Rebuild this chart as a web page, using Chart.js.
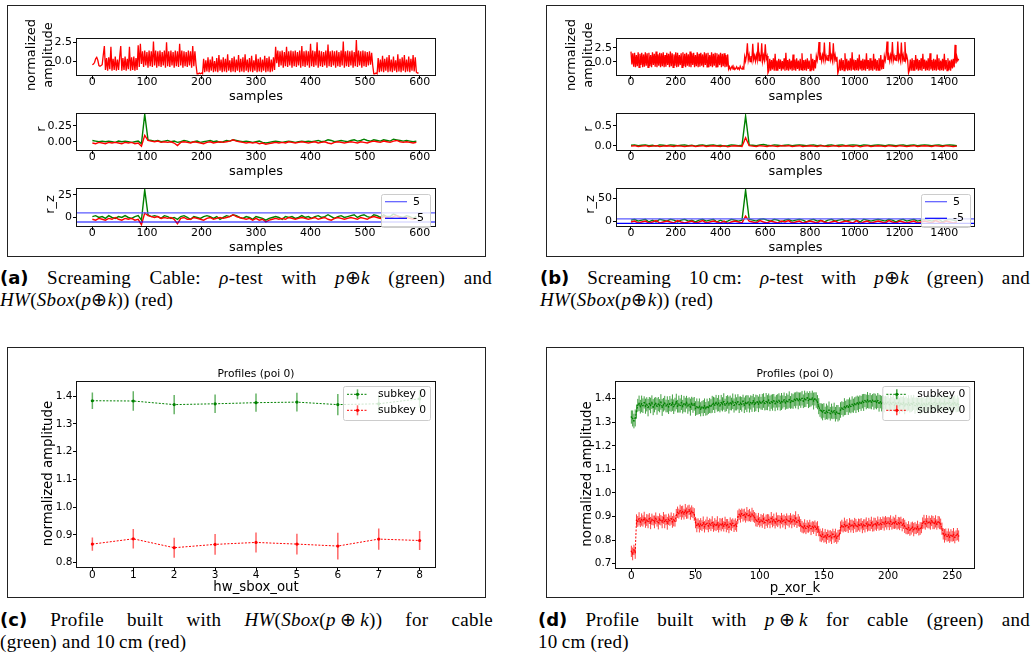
<!DOCTYPE html>
<html>
<head>
<meta charset="utf-8">
<script src="https://cdn.jsdelivr.net/npm/chart.js@4.4.0/dist/chart.umd.min.js"></script>
<style>
  body { margin:0; background:#fff; width:1034px; height:659px; position:relative; overflow:hidden; }
  .caixa { position:absolute; border:1.5px solid #222; box-sizing:border-box; }
  .leg { position:absolute; font-family:"Liberation Serif", serif; font-size:19px; line-height:22px; color:#000; letter-spacing:0.3px; }
  .leg .j { text-align:justify; text-align-last:justify; }
  .leg b { font-family:"DejaVu Sans", sans-serif; font-size:18px; letter-spacing:0; }
  .leg .m { display:inline-block; }
</style>
</head>
<body>
<div class="caixa" style="left:7px;top:5px;width:479px;height:252px"></div>
<div class="caixa" style="left:546px;top:5px;width:478px;height:252px"></div>
<div class="caixa" style="left:7px;top:347px;width:479px;height:251px"></div>
<div class="caixa" style="left:546px;top:347px;width:478px;height:251px"></div>

<div class="leg" style="left:0;top:267px;width:492px">
  <div class="j"><b>(a)</b> Screaming Cable: <i>ρ</i>-test with <span class="m"><i>p</i>⊕<i>k</i></span> (green) and</div>
  <div><span class="m"><i>HW</i>(<i>Sbox</i>(<i>p</i>⊕<i>k</i>))</span> (red)</div>
</div>
<div class="leg" style="left:540px;top:267px;width:490px">
  <div class="j"><b>(b)</b> Screaming 10&#8201;cm: <i>ρ</i>-test with <span class="m"><i>p</i>⊕<i>k</i></span> (green) and</div>
  <div><span class="m"><i>HW</i>(<i>Sbox</i>(<i>p</i>⊕<i>k</i>))</span> (red)</div>
</div>
<div class="leg" style="left:0;top:609px;width:493px">
  <div class="j"><b>(c)</b> Profile built with <span class="m"><i>HW</i>(<i>Sbox</i>(<i>p</i>&#8201;⊕&#8201;<i>k</i>))</span> for cable</div>
  <div>(green) and 10&#8201;cm (red)</div>
</div>
<div class="leg" style="left:538px;top:609px;width:492px">
  <div class="j"><b>(d)</b> Profile built with <span class="m"><i>p</i>&#8201;⊕&#8201;<i>k</i></span> for cable (green) and</div>
  <div>10&#8201;cm (red)</div>
</div>

<script>
// ================== dados ==================

// (a) traço do cabo, um valor a cada 2 amostras
const passoTracoCabo = 2;
const tracoCabo = [
  -0.5,-0.4,-0.2,0.3,0.5,0.1,-0.6,-0.7,-0.6,-0.5,
  0.8,2.0,-1.2,0.4,-1.3,0.5,-1.1,1.9,-1.3,0.3,-1.2,0.6,-1.3,0.2,-1.2,0.5,2.0,-1.3,0.4,-1.2,0.6,-1.3,0.3,-1.1,1.9,-1.3,0.5,-1.2,0.6,-1.3,0.4,-1.2,2.1,-0.8,
  2.3,-0.4,1.3,-0.8,1.4,-0.6,1.2,-0.9,1.4,-0.7,
  1.3,-0.8,2.6,-0.6,1.4,-0.9,1.3,-0.7,1.4,-0.8,
  1.2,-0.6,1.4,-0.9,2.5,-0.7,1.3,-0.8,1.4,-0.6,
  1.2,-0.9,1.4,-0.7,1.3,-0.8,2.3,-0.6,1.4,-0.9,
  1.3,-0.7,1.2,-0.8,1.4,-0.6,1.3,-0.9,2.0,-0.7,
  1.3,-0.5,
  -1.7,-1.7,-1.6,-1.7,-1.6,-1.7,
  0.3,-1.5,0.1,-1.4,0.5,-1.5,0.2,-1.3,0.6,-1.5,
  0.0,-1.4,0.4,-1.5,0.8,-1.3,0.2,-1.5,0.5,-1.4,
  0.3,-1.5,0.9,-1.3,0.1,-1.5,0.4,-1.4,0.6,-1.5,
  0.2,-1.3,0.8,-1.5,0.3,-1.4,0.5,-1.5,0.9,-1.3,
  0.2,-1.5,0.4,-1.4,0.7,-1.5,0.1,-1.3,0.9,-1.5,
  0.3,-1.4,0.5,-1.5,0.2,-1.3,0.7,-1.5,0.4,-1.4,
  0.6,-1.5,0.2,-1.4,0.5,-1.2,
  1.9,-0.3,
  1.4,-0.8,1.3,-0.6,1.4,-0.9,1.2,-0.7,1.9,-0.8,
  1.3,-0.6,1.4,-0.9,1.3,-0.7,1.4,-0.8,1.2,-0.6,
  1.4,-0.9,2.0,-0.7,1.3,-0.8,1.4,-0.6,1.3,-0.9,
  2.3,-0.7,1.4,-0.8,1.3,-0.6,2.5,-0.9,1.4,-0.7,
  1.3,-0.8,1.2,-0.6,1.4,-0.9,2.2,-0.7,1.3,-0.8,
  1.4,-0.6,1.3,-0.9,1.4,-0.7,1.2,-0.8,1.4,-0.6,
  2.6,-0.9,1.3,-0.7,1.4,-0.8,1.3,-0.6,1.4,-0.9,
  1.2,-0.7,2.8,-0.8,1.4,-0.6,1.3,-0.9,1.4,-0.7,
  1.3,-0.8,1.2,-0.6,1.3,-0.5,1.1,-0.6,
  -1.7,-1.7,-1.6,-1.7,
  0.4,-1.5,0.2,-1.4,0.7,-1.5,0.3,-1.3,0.5,-1.5,
  0.8,-1.4,0.2,-1.5,0.6,-1.3,0.1,-1.5,0.9,-1.4,
  0.3,-1.5,0.5,-1.3,0.8,-1.5,0.2,-1.4,0.6,-1.5,
  0.3,-1.3,0.8,-1.4,0.5,-1.5,-1.6,-1.6
];

// (a) correlação r e r_z, um valor a cada 6 amostras
const passoRCabo = 6;
const rCaboVerde = [
  0.02,0.01,0.0,0.01,0.0,0.01,0.0,-0.01,0.01,0.0,0.01,0.0,-0.01,0.0,0.01,-0.03,
  0.43,
  0.03,0.02,0.01,0.02,0.0,0.01,0.02,0.0,0.01,-0.01,
  0.0,0.02,0.01,-0.01,0.0,0.01,-0.01,0.0,0.01,0.02,
  0.0,0.01,-0.01,0.0,0.02,0.01,0.03,0.02,0.01,0.0,
  0.01,0.0,-0.01,0.0,0.01,-0.01,-0.02,-0.01,0.0,0.01,
  0.0,-0.01,0.0,0.01,0.0,-0.01,0.0,0.01,0.0,0.01,
  0.0,0.01,0.02,0.0,0.01,0.03,0.02,0.0,0.01,0.02,
  0.01,0.0,0.02,0.03,0.01,0.02,0.04,0.02,0.01,0.03,
  0.02,0.01,0.03,0.02,0.01,0.04,0.03,0.02,0.01,0.02,
  0.01,0.0,0.01
];
const rCaboVermelho = [
  -0.02,-0.03,-0.01,-0.02,-0.03,-0.01,-0.02,-0.01,-0.02,-0.03,-0.01,-0.02,-0.01,-0.03,-0.02,-0.07,
  0.10,
  0.02,0.01,0.0,0.01,-0.01,0.0,-0.01,0.0,-0.02,-0.06,
  -0.01,0.0,-0.01,-0.02,0.0,-0.01,-0.02,-0.03,-0.01,0.0,
  -0.02,-0.01,0.0,-0.01,0.0,0.01,0.03,0.01,0.0,-0.01,
  -0.02,-0.01,-0.02,-0.01,-0.03,-0.02,-0.04,-0.03,-0.02,-0.01,
  -0.02,-0.01,-0.02,0.0,-0.01,-0.02,-0.01,0.0,-0.01,-0.02,
  -0.01,0.0,-0.02,-0.01,0.0,-0.02,-0.03,-0.01,0.0,-0.01,
  -0.02,-0.01,0.0,-0.01,-0.02,0.0,-0.01,-0.02,0.0,0.01,
  0.0,-0.01,0.01,0.0,-0.01,0.01,0.02,0.0,-0.01,0.0,
  -0.01,-0.02,-0.01
];
const rzCaboVerde = [
  1,2,0,1,-1,2,0,-1,1,0,2,0,-1,1,2,-3,
  30.5,
  3,1,2,1,-1,2,1,-1,0,-2,
  1,2,0,-2,1,0,-1,1,2,1,
  -1,1,-2,0,2,1,3,2,0,-1,
  1,0,-2,1,0,-1,-3,-1,0,1,
  0,-2,1,0,1,-1,0,2,0,1,
  -1,1,2,0,1,3,1,-1,1,2,
  0,1,2,3,0,2,3,1,0,3,
  2,0,3,1,1,4,2,1,0,2,
  1,-1,1
];
const rzCaboVermelho = [
  -2,-3,-1,-2,-3,-1,-2,0,-2,-3,-1,-2,-1,-3,-2,-8,
  5,
  2,1,0,1,-1,0,-1,0,-2,-7,
  -1,0,-2,-2,0,-1,-2,-3,-1,0,
  -2,-1,0,-1,0,1,3,1,0,-1,
  -2,-1,-3,-1,-3,-2,-5,-3,-2,-1,
  -2,-1,-2,0,-1,-2,-1,0,-1,-2,
  -1,0,-2,-1,0,-2,-3,-1,0,-1,
  -2,-1,0,-1,-2,0,-1,-2,0,1,
  0,-1,1,0,-1,1,2,0,-1,0,
  -1,-2,-1
];

// (b) traço de 10 cm, um valor a cada 4 amostras
const passoTraco10cm = 4;
const traco10cm = [
  1.8,-0.5,1.5,-0.9,1.6,-1.0,1.2,-0.8,1.7,-1.0,
  1.4,-0.6,1.6,-1.0,1.3,-0.9,1.7,-0.7,1.5,-1.0,
  1.6,-0.8,1.2,-1.0,1.7,-0.6,1.4,-0.9,1.8,-1.0,
  1.3,-0.7,1.6,-1.0,1.5,-0.8,1.7,-1.0,1.2,-0.9,
  1.6,-0.6,1.4,-1.0,1.8,-0.8,1.5,-1.0,1.3,-0.7,
  1.7,-1.0,1.6,-0.9,1.2,-0.6,1.5,-1.0,1.7,-0.8,
  1.4,-1.0,1.6,-0.7,1.3,-0.9,1.8,-1.0,1.5,-0.6,
  1.6,-1.0,1.2,-0.8,1.7,-1.0,1.4,-0.9,1.6,-0.7,
  1.3,-1.0,1.7,-0.6,1.5,-0.9,1.6,-1.0,1.2,-0.8,
  1.7,-1.0,1.4,-0.7,1.6,-0.9,1.5,-1.0,1.3,-0.6,
  1.6,-1.0,1.4,-0.8,1.5,-1.0,1.2,-0.9,1.3,
  -1.3,-0.9,-1.4,-1.1,-0.8,-1.3,-1.0,-1.4,-1.2,-0.9,-1.3,-1.1,-1.4,-0.8,-1.2,-1.3,-1.0,-1.2,
  0.9,0.1,1.1,3.3,0.3,1.2,0.0,1.0,0.2,3.2,
  0.4,1.1,0.1,1.2,0.3,3.4,0.2,1.0,0.4,3.3,
  0.1,1.1,0.3,3.1,0.5,1.0,
  -2.0,-1.6,
  0.5,-1.6,0.3,-1.4,0.6,-1.6,1.4,-1.5,0.2,-1.6,
  0.5,-1.3,0.4,-1.6,0.1,-1.4,0.6,-1.6,1.6,-1.5,
  0.3,-1.6,0.5,-1.4,0.2,-1.6,1.3,-1.5,0.4,-1.6,
  0.6,-1.3,0.2,-1.6,0.5,-1.4,1.5,-1.6,0.3,-1.5,
  0.4,-1.6,0.6,-1.3,0.2,-1.6,1.4,-1.5,0.5,-1.6,
  0.3,-1.2,
  1.0,0.2,1.2,3.5,0.3,1.1,0.1,1.2,0.4,3.4,
  0.2,1.0,0.3,1.2,0.1,3.5,0.4,1.1,0.2,3.3,
  0.3,1.2,0.1,0.9,
  -2.1,-1.5,
  0.4,-1.6,0.6,-1.5,0.3,-1.6,1.5,-1.4,0.5,-1.6,
  0.2,-1.5,0.6,-1.6,1.7,-1.3,0.4,-1.6,0.3,-1.5,
  0.6,-1.6,1.3,-1.4,0.2,-1.6,0.5,-1.5,0.4,-1.6,
  1.5,-1.3,0.3,-1.6,0.6,-1.5,0.2,-1.6,1.4,-1.4,
  0.5,-1.6,0.3,-1.5,0.6,-1.6,1.2,-1.4,0.4,-1.3,
  1.0,0.2,1.2,3.6,0.3,1.1,0.1,1.2,0.4,3.5,
  0.2,1.0,0.3,1.2,0.1,3.6,0.4,1.1,0.2,3.4,
  0.3,1.2,0.1,3.5,0.4,1.1,0.3,
  -2.0,-1.5,
  0.4,-1.6,0.6,-1.5,0.3,-1.6,1.2,-1.4,0.5,-1.6,
  0.3,-1.5,0.6,-1.6,1.4,-1.3,0.4,-1.6,0.2,-1.5,
  0.6,-1.6,1.5,-1.4,0.3,-1.6,0.5,-1.5,0.4,-1.6,
  1.3,-1.3,0.6,-1.6,0.2,-1.5,0.5,-1.6,1.4,-1.4,
  0.3,-1.6,0.6,-1.5,0.2,-1.6,0.4,-1.2,0.5,-1.0,
  3.0,-0.3,0.9,0.2,0.5
];

// (b) r e r_z, um valor a cada 16 amostras
const passoR10cm = 16;
const r10cmVerde = [
  0.01,0.02,0.0,0.01,0.02,0.0,0.01,-0.01,0.02,0.01,
  0.0,0.02,0.01,0.0,0.01,0.02,0.0,0.01,-0.01,0.01,
  0.02,0.0,0.01,0.02,0.0,0.01,-0.01,0.0,0.02,0.01,
  0.0,0.01,0.75,0.02,0.01,0.0,0.02,0.03,0.01,0.0,
  0.02,0.01,0.0,0.01,0.02,0.0,0.01,0.02,0.01,0.0,
  0.01,0.02,0.0,0.01,-0.01,0.01,0.02,0.0,0.01,0.02,
  0.0,0.01,0.02,0.01,0.0,0.02,0.01,0.0,0.01,0.02,
  0.01,0.0,0.02,0.01,0.0,0.01,0.02,0.0,0.01,0.02,
  0.0,0.01,0.02,0.01,0.0,0.01,0.02,0.0,0.01,0.02,
  0.01,0.0
];
const r10cmVermelho = [
  -0.01,0.0,-0.02,-0.01,0.0,-0.02,-0.01,0.0,-0.02,-0.01,
  0.0,-0.01,-0.02,0.0,-0.01,-0.02,-0.01,0.0,-0.02,-0.01,
  0.0,-0.02,-0.01,0.0,-0.01,-0.02,0.0,-0.03,-0.01,0.0,
  -0.01,-0.02,0.20,0.0,-0.01,-0.02,0.0,-0.01,-0.02,0.0,
  -0.01,-0.02,0.0,-0.01,0.0,-0.02,-0.01,0.0,-0.02,-0.01,
  0.0,-0.01,-0.02,0.0,-0.01,-0.02,-0.01,0.0,-0.02,-0.01,
  0.0,-0.01,-0.02,0.0,-0.03,-0.01,0.0,-0.02,-0.01,0.0,
  -0.01,-0.02,0.0,-0.01,-0.02,0.0,-0.01,-0.02,-0.01,0.0,
  -0.02,-0.01,0.0,-0.01,-0.02,0.0,-0.01,-0.02,0.0,-0.01,
  -0.02,-0.01
];
const rz10cmVerde = [
  2,4,0,2,4,-2,2,-2,4,2,
  0,4,2,-2,2,4,0,2,-2,2,
  4,0,2,4,-2,2,-2,0,4,2,
  0,2,68,4,2,0,4,5,2,0,
  4,2,-2,2,4,0,2,4,2,-2,
  2,4,0,2,-2,2,4,0,2,4,
  0,2,4,2,-2,4,2,0,2,4,
  2,0,4,2,-2,2,4,0,2,4,
  0,2,4,2,0,2,4,-2,2,4,
  2,0
];
const rz10cmVermelho = [
  -2,0,-4,-2,0,-4,-2,1,-4,-2,
  0,-2,-4,1,-2,-4,-2,0,-4,-2,
  1,-4,-2,0,-2,-4,0,-5,-2,0,
  -2,-4,11,0,-2,-4,1,-2,-4,0,
  -2,-4,0,-2,1,-4,-2,0,-4,-2,
  0,-2,-4,1,-2,-4,-2,0,-4,-2,
  0,-2,-4,1,-5,-2,0,-4,-2,0,
  -2,-4,1,-2,-4,0,-2,-4,-2,0,
  -4,-2,0,-2,-4,1,-2,-4,0,-2,
  -4,-2
];
const limiares = [5, -5];

// (c) perfis por hw_sbox_out
const hwCategorias = [0, 1, 2, 3, 4, 5, 6, 7, 8];
const hwMediaVerde = [1.383, 1.382, 1.369, 1.372, 1.376, 1.378, 1.369, 1.372, 1.390];
const hwErroVerde = [0.030, 0.035, 0.035, 0.033, 0.033, 0.034, 0.038, 0.032, 0.032];
const hwMediaVermelho = [0.867, 0.886, 0.854, 0.866, 0.873, 0.867, 0.860, 0.885, 0.880];
const hwErroVermelho = [0.024, 0.035, 0.036, 0.037, 0.036, 0.037, 0.048, 0.038, 0.034];

// (d) perfis por p_xor_k (0..255), valores em milésimos
const pxorMediaVerde = [
  1322,1316,1305,1318,1345,1372,1380,1366,1378,1370,
  1384,1368,1376,1362,1379,1371,1385,1364,1373,1380,
  1367,1377,1370,1386,1363,1374,1381,1369,1376,1365,
  1379,1372,1383,1366,1375,1388,1368,1377,1371,1384,
  1366,1378,1373,1385,1369,1376,1364,1380,1372,1378,
  1358,1366,1361,1368,1355,1364,1360,1370,1357,1365,
  1362,1371,1368,1376,1380,1372,1385,1374,1381,1369,
  1383,1376,1388,1372,1379,1386,1373,1382,1377,1389,
  1371,1384,1378,1387,1374,1381,1376,1390,1372,1383,
  1379,1386,1373,1384,1378,1391,1375,1382,1387,1376,
  1389,1381,1386,1392,1379,1388,1383,1394,1380,1387,
  1384,1391,1378,1389,1385,1393,1381,1388,1386,1395,
  1382,1390,1387,1396,1384,1391,1388,1397,1393,1400,
  1391,1398,1394,1402,1389,1399,1395,1404,1392,1398,
  1396,1403,1390,1399,1394,1385,1368,1352,1348,1343,
  1350,1338,1346,1341,1352,1336,1347,1340,1349,1334,
  1343,1338,1336,1352,1360,1355,1366,1361,1370,1364,
  1373,1367,1376,1370,1378,1374,1382,1376,1385,1380,
  1389,1384,1392,1386,1394,1387,1391,1385,1393,1388,
  1390,1384,1392,1381,1387,1379,1385,1376,1383,1378,
  1386,1374,1382,1377,1385,1372,1381,1376,1384,1370,
  1380,1375,1383,1369,1378,1374,1382,1371,1379,1376,
  1384,1370,1378,1373,1381,1368,1377,1372,1380,1369,
  1378,1374,1383,1371,1379,1375,1384,1372,1380,1376,
  1385,1373,1381,1377,1386,1374,1382,1378,1384,1372,
  1380,1376,1383,1371,1379,1375
];
const pxorErroVerde = [
  28,34,31,36,30,27,33,29,35,31, 26,32,30,37,28,33,29,34,31,27,
  35,30,28,33,36,29,31,27,34,30, 32,28,35,31,29,33,27,36,30,32,
  29,34,31,27,33,30,36,28,32,29, 31,35,28,33,30,26,34,31,29,35,
  27,32,30,36,28,33,31,29,34,27, 33,30,35,28,32,29,36,31,27,33,
  30,34,28,32,35,29,31,27,33,30, 36,28,32,30,34,29,31,35,28,33,
  30,27,34,31,29,36,32,28,33,30, 35,29,31,27,34,30,32,36,28,31,
  29,33,30,35,27,32,31,29,34,30, 36,28,33,31,29,35,30,27,32,34,
  29,31,36,28,33,30,34,29,32,35, 31,28,33,30,36,29,32,27,34,31,
  30,35,28,33,29,31,36,30,27,33, 32,29,34,30,28,35,31,33,29,32,
  30,36,28,31,34,29,33,30,27,35, 31,29,32,36,28,33,30,34,29,31,
  35,28,32,30,33,29,36,31,27,34, 30,32,29,35,31,28,33,30,36,29,
  32,34,28,31,30,35,29,33,27,32, 31,36,29,33,30,28,34,31,32,29,
  35,30,33,28,31,36,29,32,30,34, 28,33,31,29,35,30
];
const pxorMediaVermelho = [
  752,741,758,746,884,879,890,876,887,881,
  893,874,885,879,891,872,888,883,877,892,
  880,873,889,884,876,894,879,886,871,888,
  882,891,877,886,880,905,918,912,924,915,
  921,910,926,914,919,928,912,922,916,908,
  874,862,870,858,868,861,873,856,866,871,
  859,869,863,874,857,867,862,872,855,868,
  864,870,858,873,861,866,854,869,863,871,
  860,867,858,898,909,901,912,904,908,897,
  911,903,906,899,910,902,896,886,880,889,
  876,885,879,890,873,884,881,887,875,892,
  878,886,872,889,880,884,876,891,879,885,
  874,888,882,879,890,877,886,881,893,875,
  884,878,862,856,851,860,849,858,853,861,
  848,857,852,859,846,855,838,821,815,824,
  812,819,809,822,814,818,810,825,813,820,
  808,817,822,852,861,855,866,858,863,852,
  868,859,864,856,870,861,857,866,862,869,
  855,865,860,871,858,867,862,873,859,866,
  869,861,874,864,870,866,875,868,878,870,
  876,869,880,867,874,871,878,866,873,869,
  875,863,870,858,850,846,853,842,849,855,
  844,851,847,856,843,849,852,871,878,868,
  880,872,876,869,882,874,870,879,866,877,
  873,868,848,826,818,824,815,822,812,820,
  816,823,811,819,825,817
];
const pxorErroVermelho = [
  24,27,22,26,25,23,28,21,26,24, 27,22,25,29,23,26,24,21,27,25,
  23,28,24,22,26,25,29,23,27,24, 22,26,25,28,23,27,24,21,26,29,
  25,23,27,24,28,22,26,25,23,27, 24,29,22,26,25,23,27,24,21,28,
  26,23,25,27,22,26,24,29,23,25, 27,24,22,26,28,23,25,27,24,21,
  26,25,23,28,24,27,22,26,25,23, 29,24,26,22,27,25,23,28,24,26,
  22,25,27,23,26,24,29,22,25,27, 24,26,23,28,25,22,27,24,26,23,
  28,25,22,26,24,27,23,25,29,24, 26,22,27,25,23,28,24,26,22,25,
  27,23,26,24,29,25,22,27,24,26, 23,28,25,22,26,24,27,23,25,28,
  24,26,22,27,25,23,29,24,26,22, 25,27,23,26,24,28,22,25,27,24,
  26,23,28,25,22,27,24,26,23,29, 25,22,26,24,27,23,25,28,24,26,
  22,27,25,23,26,24,29,22,25,27, 24,26,23,28,25,22,27,24,26,23,
  28,25,22,26,24,27,23,25,29,24, 26,22,27,25,23,28,24,26,22,25,
  27,23,26,24,29,25,22,27,24,26, 23,28,25,22,26,24
];

// ticks dos eixos
const ticksAmostrasCabo = [0, 100, 200, 300, 400, 500, 600];
const ticksAmostras10cm = [0, 200, 400, 600, 800, 1000, 1200, 1400];
const ticksAmpCabo = [0, 2.5];
const ticksRCabo = [0, 0.25];
const ticksRzCabo = [0, 25];
const ticksAmp10cm = [0, 2.5];
const ticksR10cm = [0, 0.5];
const ticksRz10cm = [0, 50];
const ticksHw = [0, 1, 2, 3, 4, 5, 6, 7, 8];
const ticksPxor = [0, 50, 100, 150, 200, 250];
const ticksPerfilHw = [0.8, 0.9, 1.0, 1.1, 1.2, 1.3, 1.4];
const ticksPerfilPxor = [0.7, 0.8, 0.9, 1.0, 1.1, 1.2, 1.3, 1.4];

// ================== desenho ==================

Chart.defaults.font.family = "'DejaVu Sans', sans-serif";
Chart.defaults.color = '#000';

const VERDE = '#008000', VERMELHO = '#ff0000';

function serie(valores, passo, escalaValor) {
    return valores.map((v, i) => ({ x: i * passo, y: v / (escalaValor || 1) }));
}

// moldura preta em volta da área do gráfico (estilo matplotlib)
const moldura = {
    id: 'moldura',
    afterDatasetsDraw(chart) {
        const { ctx, chartArea: a } = chart;
        ctx.save();
        ctx.strokeStyle = '#111';
        ctx.lineWidth = 1;
        ctx.strokeRect(Math.round(a.left) + 0.5, Math.round(a.top) + 0.5,
            Math.round(a.right - a.left) - 1, Math.round(a.bottom - a.top) - 1);
        ctx.restore();
    }
};

// barras de erro verticais a partir de dataset.erros
const barrasErro = {
    id: 'barrasErro',
    beforeDatasetsDraw(chart) {
        const { ctx, chartArea: a, scales: { y } } = chart;
        ctx.save();
        ctx.beginPath();
        ctx.rect(a.left, a.top, a.right - a.left, a.bottom - a.top);
        ctx.clip();
        chart.data.datasets.forEach((ds, i) => {
            if (!ds.erros) return;
            const meta = chart.getDatasetMeta(i);
            ctx.strokeStyle = ds.corErro;
            ctx.lineWidth = ds.larguraErro;
            ctx.beginPath();
            meta.data.forEach((pt, j) => {
                const v = ds.data[j].y;
                ctx.moveTo(pt.x, y.getPixelForValue(v - ds.erros[j]));
                ctx.lineTo(pt.x, y.getPixelForValue(v + ds.erros[j]));
            });
            ctx.stroke();
        });
        ctx.restore();
    }
};

// título acima da área do gráfico, centrado no eixo
function tituloEixos(texto) {
    return {
        id: 'tituloEixos',
        afterDraw(chart) {
            const { ctx, chartArea: a } = chart;
            ctx.save();
            ctx.font = "10.7px 'DejaVu Sans', sans-serif";
            ctx.fillStyle = '#000';
            ctx.textAlign = 'center';
            ctx.textBaseline = 'middle';
            ctx.fillText(texto, (a.left + a.right) / 2, a.top - 7);
            ctx.restore();
        }
    };
}

// rótulo vertical do eixo y (sem o limite de largura do Chart.js)
function rotuloY(linhas, xs, tamanho, dy) {
    return {
        id: 'rotuloY',
        afterDraw(chart) {
            const { ctx, chartArea: a } = chart;
            ctx.save();
            ctx.font = tamanho + "px 'DejaVu Sans', sans-serif";
            ctx.fillStyle = '#000';
            ctx.textAlign = 'center';
            ctx.textBaseline = 'middle';
            linhas.forEach((t, i) => {
                ctx.save();
                ctx.translate(xs[i], (a.top + a.bottom) / 2 + (dy || 0));
                ctx.rotate(-Math.PI / 2);
                ctx.fillText(t, 0, 0);
                ctx.restore();
            });
            ctx.restore();
        }
    };
}

// legenda dentro do gráfico, canto superior direito
function legendaMpl(cfg) {
    return {
        id: 'legendaMpl',
        afterDraw(chart) {
            const { ctx, chartArea: a } = chart;
            const x0 = a.right - cfg.dx - cfg.w, y0 = a.top + cfg.dy;
            ctx.save();
            ctx.fillStyle = 'rgba(255,255,255,0.8)';
            ctx.strokeStyle = '#cccccc';
            ctx.lineWidth = 1;
            ctx.beginPath();
            if (ctx.roundRect) ctx.roundRect(x0 + 0.5, y0 + 0.5, cfg.w, cfg.h, 2);
            else ctx.rect(x0 + 0.5, y0 + 0.5, cfg.w, cfg.h);
            ctx.fill();
            ctx.stroke();
            cfg.indices.forEach((di, k) => {
                const ds = chart.data.datasets[di];
                const yy = y0 + cfg.linhas[k];
                ctx.strokeStyle = ds.borderColor;
                ctx.lineWidth = ds.borderWidth;
                ctx.setLineDash(ds.borderDash || []);
                ctx.beginPath();
                ctx.moveTo(x0 + cfg.lx0, yy);
                ctx.lineTo(x0 + cfg.lx1, yy);
                ctx.stroke();
                ctx.setLineDash([]);
                if (cfg.erro) {
                    const xm = x0 + (cfg.lx0 + cfg.lx1) / 2;
                    ctx.strokeStyle = ds.corErro;
                    ctx.lineWidth = 1.5;
                    ctx.beginPath();
                    ctx.moveTo(xm, yy - 5);
                    ctx.lineTo(xm, yy + 5);
                    ctx.stroke();
                    ctx.fillStyle = ds.borderColor;
                    ctx.beginPath();
                    ctx.arc(xm, yy, 1.6, 0, Math.PI * 2);
                    ctx.fill();
                }
                ctx.fillStyle = '#000';
                ctx.font = cfg.fonte + "px 'DejaVu Sans', sans-serif";
                ctx.textBaseline = 'middle';
                ctx.fillText(ds.label, x0 + cfg.tx, yy);
            });
            ctx.restore();
        }
    };
}

const gradeTicks = { display: true, drawOnChartArea: false, drawTicks: true, tickLength: 3, color: '#000', lineWidth: 1 };

function escalaX(lim, ticks, dec, titulo, g, est) {
    return {
        type: 'linear', min: lim[0], max: lim[1],
        afterBuildTicks: s => { s.ticks = ticks.map(v => ({ value: v })); },
        afterFit: s => { s.height = g.xH; },
        ticks: { autoSkip: false, maxRotation: 0, color: '#000', padding: est.padTickX,
                 font: { size: est.tick, lineHeight: 1 }, callback: v => Number(v).toFixed(dec) },
        grid: gradeTicks,
        border: { display: false },
        title: { display: true, text: titulo, color: '#000',
                 font: { size: est.titulo, lineHeight: 1.2 }, padding: { top: 0, bottom: 0 } }
    };
}

function escalaY(lim, ticks, dec, g, est) {
    return {
        type: 'linear', min: lim[0], max: lim[1],
        afterBuildTicks: s => { s.ticks = ticks.map(v => ({ value: v })); },
        afterFit: s => { s.width = g.yW; },
        ticks: { color: '#000', padding: est.padTickY, font: { size: est.tick },
                 callback: v => Number(v).toFixed(dec) },
        grid: gradeTicks,
        border: { display: false },
        title: { display: false }
    };
}

function criarEixos(g, datasets, escalas, extras) {
    const canvas = document.createElement('canvas');
    canvas.width = g.w;
    canvas.height = g.h;
    canvas.style.cssText = 'position:absolute;left:' + g.x + 'px;top:' + g.y + 'px;';
    document.body.appendChild(canvas);
    return new Chart(canvas.getContext('2d'), {
        type: 'line',
        data: { datasets: datasets },
        options: {
            responsive: false, animation: false, events: [],
            layout: { padding: { top: g.padTop, right: g.padRight, left: 0, bottom: 0 } },
            plugins: { legend: { display: false }, tooltip: { enabled: false } },
            elements: { point: { radius: 0 }, line: { tension: 0 } },
            scales: escalas
        },
        plugins: [barrasErro, moldura].concat(extras || [])
    });
}

function linha(label, dados, cor, ordem, largura) {
    return { label: label, data: dados, borderColor: cor, backgroundColor: cor,
             borderWidth: largura || 1.4, pointRadius: 0, fill: false, order: ordem };
}

// estilos de texto
const estTraco = { tick: 11, titulo: 13, padTickX: -2.3, padTickY: 1 };
const estPerfil = { tick: 10.5, titulo: 13.3, padTickX: -1.2, padTickY: 0.5 };

// geometria das caixas (posições dos canvases)
const gA = [
    { x: 10, y: 12, w: 438, h: 92, yW: 66, xH: 28, padTop: 26, padRight: 12 },
    { x: 10, y: 105, w: 438, h: 74, yW: 66, xH: 28, padTop: 8, padRight: 12 },
    { x: 10, y: 180, w: 438, h: 75, yW: 66, xH: 28, padTop: 8, padRight: 12 }
];
const gB = [
    { x: 549, y: 12, w: 438, h: 92, yW: 67, xH: 28, padTop: 26, padRight: 12 },
    { x: 549, y: 105, w: 438, h: 74, yW: 67, xH: 28, padTop: 8, padRight: 12 },
    { x: 549, y: 180, w: 438, h: 75, yW: 67, xH: 28, padTop: 8, padRight: 12 }
];
const gC = { x: 10, y: 360, w: 438, h: 236, yW: 66, xH: 28, padTop: 21, padRight: 12 };
const gD = { x: 549, y: 360, w: 438, h: 237, yW: 66, xH: 28, padTop: 21, padRight: 12 };

const limXCabo = [-30, 630], limX10cm = [-67, 1537];

function legendaLimiar(dx) {
    return legendaMpl({ w: 49, h: 33, dx: dx, dy: 6, linhas: [7.7, 24.3], lx0: 4, lx1: 26,
                        tx: 32, fonte: 11, indices: [2, 3], erro: false });
}

function limiarDatasets(lim) {
    const cores = ['#5a5aff', '#0000ff'];
    return limiares.map((v, i) => linha(String(v), [{ x: lim[0], y: v }, { x: lim[1], y: v }], cores[i], 0, 1.2));
}

// ---- (a) cabo ----
criarEixos(gA[0],
    [linha('cabo', serie(tracoCabo, passoTracoCabo), VERMELHO, 1, 1.3)],
    { x: escalaX(limXCabo, ticksAmostrasCabo, 0, 'samples', gA[0], estTraco),
      y: escalaY([-2.0, 3.07], ticksAmpCabo, 1, gA[0], estTraco) },
    [rotuloY(['normalized', 'amplitude'], [22, 39], 13, -2)]);

criarEixos(gA[1],
    [linha('p xor k', serie(rCaboVerde, passoRCabo), VERDE, 2),
     linha('hw sbox', serie(rCaboVermelho, passoRCabo), VERMELHO, 1)],
    { x: escalaX(limXCabo, ticksAmostrasCabo, 0, 'samples', gA[1], estTraco),
      y: escalaY([-0.145, 0.45], ticksRCabo, 2, gA[1], estTraco) },
    [rotuloY(['r'], [31.7], 13, -3)]);

criarEixos(gA[2],
    [linha('p xor k', serie(rzCaboVerde, passoRCabo), VERDE, 2),
     linha('hw sbox', serie(rzCaboVermelho, passoRCabo), VERMELHO, 1)].concat(limiarDatasets(limXCabo)),
    { x: escalaX(limXCabo, ticksAmostrasCabo, 0, 'samples', gA[2], estTraco),
      y: escalaY([-10.5, 32.5], ticksRzCabo, 0, gA[2], estTraco) },
    [rotuloY(['r_z'], [40.7], 13, -3), legendaLimiar(6)]);

// ---- (b) 10 cm ----
criarEixos(gB[0],
    [linha('10 cm', serie(traco10cm, passoTraco10cm), VERMELHO, 1, 1.3)],
    { x: escalaX(limX10cm, ticksAmostras10cm, 0, 'samples', gB[0], estTraco),
      y: escalaY([-2.55, 4.23], ticksAmp10cm, 1, gB[0], estTraco) },
    [rotuloY(['normalized', 'amplitude'], [23, 40], 13, -2)]);

criarEixos(gB[1],
    [linha('p xor k', serie(r10cmVerde, passoR10cm), VERDE, 2),
     linha('hw sbox', serie(r10cmVermelho, passoR10cm), VERMELHO, 1)],
    { x: escalaX(limX10cm, ticksAmostras10cm, 0, 'samples', gB[1], estTraco),
      y: escalaY([-0.135, 0.83], ticksR10cm, 1, gB[1], estTraco) },
    [rotuloY(['r'], [39.3], 13, -3)]);

criarEixos(gB[2],
    [linha('p xor k', serie(rz10cmVerde, passoR10cm), VERDE, 2),
     linha('hw sbox', serie(rz10cmVermelho, passoR10cm), VERMELHO, 1)].concat(limiarDatasets(limX10cm)),
    { x: escalaX(limX10cm, ticksAmostras10cm, 0, 'samples', gB[2], estTraco),
      y: escalaY([-13, 72.7], ticksRz10cm, 0, gB[2], estTraco) },
    [rotuloY(['r_z'], [42], 13, -3), legendaLimiar(5)]);

// ---- (c) e (d) perfis ----
function perfil(label, pontos, erros, cor, corErro, raio, largErro) {
    return { label: label, data: pontos, erros: erros, corErro: corErro, larguraErro: largErro,
             borderColor: cor, backgroundColor: cor, borderWidth: 1, borderDash: [2, 1.5],
             pointRadius: raio, pointBorderWidth: 0, pointBackgroundColor: cor, fill: false };
}

const legendaPerfil = dx => legendaMpl({ w: 87, h: 34, dx: dx, dy: 5, linhas: [8.3, 24.3],
    lx0: 4, lx1: 25, tx: 35, fonte: 10.7, indices: [0, 1], erro: true });

criarEixos(gC,
    [perfil('subkey 0', hwCategorias.map((c, i) => ({ x: c, y: hwMediaVerde[i] })), hwErroVerde,
            VERDE, 'rgba(0,128,0,0.6)', 1.6, 1.5),
     perfil('subkey 0', hwCategorias.map((c, i) => ({ x: c, y: hwMediaVermelho[i] })), hwErroVermelho,
            VERMELHO, 'rgba(255,0,0,0.6)', 1.6, 1.5)],
    { x: escalaX([-0.4, 8.4], ticksHw, 0, 'hw_sbox_out', gC, estPerfil),
      y: escalaY([0.781, 1.454], ticksPerfilHw, 1, gC, estPerfil) },
    [rotuloY(['normalized amplitude'], [38.3], 13.3, -1), tituloEixos('Profiles (poi 0)'), legendaPerfil(6)]);

criarEixos(gD,
    [perfil('subkey 0', serie(pxorMediaVerde, 1, 1000), pxorErroVerde.map(e => e / 1000),
            VERDE, 'rgba(0,128,0,0.75)', 0.8, 1),
     perfil('subkey 0', serie(pxorMediaVermelho, 1, 1000), pxorErroVermelho.map(e => e / 1000),
            VERMELHO, 'rgba(255,0,0,0.75)', 0.8, 1)],
    { x: escalaX([-12.75, 267.75], ticksPxor, 0, 'p_xor_k', gD, estPerfil),
      y: escalaY([0.677, 1.475], ticksPerfilPxor, 1, gD, estPerfil) },
    [rotuloY(['normalized amplitude'], [38.3], 13.3, -1), tituloEixos('Profiles (poi 0)'), legendaPerfil(5.7)]);
</script>
</body>
</html>
